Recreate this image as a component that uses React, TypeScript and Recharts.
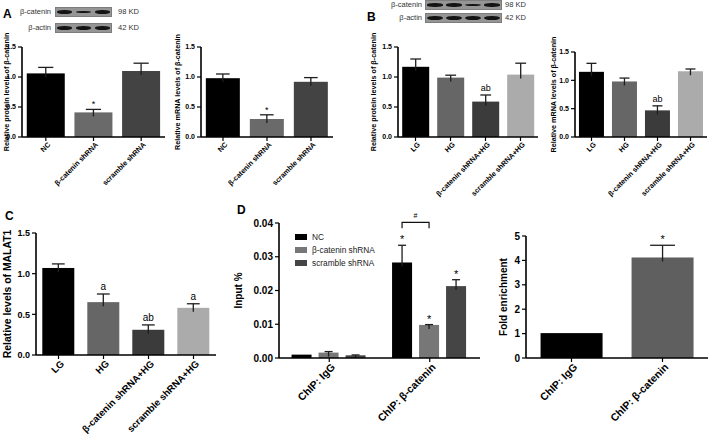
import React from 'react';
import { Bar, BarChart, Cell, Legend, XAxis, YAxis } from 'recharts';

const FONT = '"Liberation Sans", Arial, Helvetica, sans-serif';

// panel A
const aCategories = ['NC', 'β-catenin shRNA', 'scramble shRNA'];
const aProtein = [1.06, 0.41, 1.1];
const aProteinErr = [0.1, 0.05, 0.13];
const aMrna = [0.98, 0.3, 0.92];
const aMrnaErr = [0.07, 0.07, 0.07];
const aNotes = ['', '*', ''];
const aColors = ['#000000', '#6a6a6a', '#434343'];

// panel B
const bCategories = ['LG', 'HG', 'β-catenin shRNA+HG', 'scramble shRNA+HG'];
const bProtein = [1.17, 0.99, 0.59, 1.04];
const bProteinErr = [0.13, 0.04, 0.11, 0.19];
const bMrna = [1.15, 0.98, 0.47, 1.16];
const bMrnaErr = [0.15, 0.06, 0.08, 0.04];
const bNotes = ['', '', 'ab', ''];
const bColors = ['#000000', '#666666', '#3b3b3b', '#ababab'];

// panel C
const cValues = [1.07, 0.65, 0.31, 0.58];
const cErr = [0.05, 0.1, 0.06, 0.05];
const cNotes = ['', 'a', 'ab', 'a'];

// panel D
const dGroups = ['ChIP: IgG', 'ChIP: β-catenin'];
const dSeries = ['nc', 'sh', 'scr'];
const dSeriesNames = ['NC', 'β-catenin shRNA', 'scramble shRNA'];
const dSeriesColors = ['#000000', '#777777', '#454545'];
const dNc = [0.001, 0.0283];
const dNcErr = [0, 0.0051];
const dSh = [0.0016, 0.0098];
const dShErr = [0.0003, 0.0001];
const dScr = [0.0008, 0.0213];
const dScrErr = [0.0001, 0.0019];
const dNotes = ['', '*'];
const dBracket = { group: 'ChIP: β-catenin', level: 0.0402, label: '#' };
const dFold = [1.02, 4.12];
const dFoldErr = [0, 0.5];
const dFoldColors = ['#000000', '#5f5f5f'];

// blot band thickness per lane
const aBlotCatenin = [4, 2.2, 4];
const aBlotActin = [4, 4, 4];
const bBlotCatenin = [3.4, 3.4, 2, 3.6];
const bBlotActin = [4.4, 4.4, 4.4, 4.4];

const rows = (cats: string[], vals: number[], errs: number[], notes: string[]) =>
  cats.map((name, i) => ({ name, v: vals[i], e: errs[i], n: notes[i] }));

const aProteinData = rows(aCategories, aProtein, aProteinErr, aNotes);
const aMrnaData = rows(aCategories, aMrna, aMrnaErr, aNotes);
const bProteinData = rows(bCategories, bProtein, bProteinErr, bNotes);
const bMrnaData = rows(bCategories, bMrna, bMrnaErr, bNotes);
const cData = rows(bCategories, cValues, cErr, cNotes);
const dFoldData = rows(dGroups, dFold, dFoldErr, dNotes);
const dData = dGroups.map((name, i) => ({
  name,
  nc: dNc[i], ncErr: dNcErr[i], ncNote: dNotes[i],
  sh: dSh[i], shErr: dShErr[i], shNote: dNotes[i],
  scr: dScr[i], scrErr: dScrErr[i], scrNote: dNotes[i],
}));

const BAR_GAP = 7;

// bar + upward whisker + note, whisker scaled from the bar's own px/unit
const errShape = (vk: string, ek: string, nk: string, noteSize: number, bracket = false) => (p: any) => {
  const { x, y, width, height, fill, payload } = p;
  const v = payload[vk];
  const ppu = v > 0 ? height / v : 0;
  const e = payload[ek] ?? 0;
  const top = y - e * ppu;
  const cx = x + width / 2;
  const cap = width * 0.2;
  const note = payload[nk];
  const base = y + height;
  const by = base - dBracket.level * ppu;
  return (
    <g>
      <rect x={x} y={y} width={width} height={height} fill={fill} />
      {e > 0 && (
        <g stroke="#1e1e1e" strokeWidth={1.3}>
          <line x1={cx} y1={Math.min(y + 4, base)} x2={cx} y2={top} />
          <line x1={cx - cap} y1={top} x2={cx + cap} y2={top} />
        </g>
      )}
      {note && (
        <text x={cx} y={top - (note === '*' ? 2 : 4)} textAnchor="middle" fontSize={noteSize} fontFamily={FONT} fill="#000" stroke="none">
          {note}
        </text>
      )}
      {bracket && payload.name === dBracket.group && (
        <g>
          <path
            d={`M${cx},${by + 6} V${by} H${cx + width + BAR_GAP} V${by + 6}`}
            fill="none" stroke="#111" strokeWidth={1.2}
          />
          <text x={cx + (width + BAR_GAP) / 2} y={by - 4} textAnchor="middle" fontSize={7} fontFamily={FONT} fill="#000" stroke="none">
            {dBracket.label}
          </text>
        </g>
      )}
    </g>
  );
};

const slantTick = (size: number) => (p: any) => (
  <g transform={`translate(${p.x},${p.y})`}>
    <text x={2} y={0} dy={size * 0.7} transform="rotate(-45)" textAnchor="end" fontSize={size} fontWeight={700} fill="#000" fontFamily={FONT}>
      {p.payload.value}
    </text>
  </g>
);

interface PanelProps {
  box: { x: number; y: number; w: number; h: number };
  yw: number;
  xh: number;
  data: any[];
  domain: [number, number];
  ticks: number[];
  digits: number;
  yLabel: string;
  labelX: number;
  tickSize: number;
  xTickSize: number;
  labelSize: number;
  catGap: string;
  children: React.ReactNode;
}

const Panel = ({ box, yw, xh, data, domain, ticks, digits, yLabel, labelX, tickSize, xTickSize, labelSize, catGap, children }: PanelProps) => {
  const MT = 20;
  const MR = 4;
  const left = box.x - yw;
  return (
    <div style={{ position: 'absolute', left, top: box.y - MT }}>
      <BarChart
        width={yw + box.w + MR}
        height={MT + box.h + xh}
        data={data}
        margin={{ top: MT, right: MR, left: 0, bottom: 0 }}
        barCategoryGap={catGap}
        barGap={BAR_GAP}
      >
        <XAxis
          dataKey="name"
          height={xh}
          interval={0}
          axisLine={{ stroke: '#000', strokeWidth: 1.6 }}
          tickLine={{ stroke: '#000', strokeWidth: 1.2 }}
          tickSize={4}
          tick={slantTick(xTickSize)}
        />
        <YAxis
          width={yw}
          type="number"
          domain={domain}
          ticks={ticks}
          interval={0}
          tickFormatter={(t: number) => t.toFixed(digits)}
          axisLine={{ stroke: '#000', strokeWidth: 1.6 }}
          tickLine={{ stroke: '#000', strokeWidth: 1.2 }}
          tickSize={4}
          tick={{ fontSize: tickSize, fontWeight: 700, fill: '#000', fontFamily: FONT }}
          label={{
            value: yLabel,
            angle: -90,
            position: 'insideLeft',
            offset: labelX - left,
            textAnchor: 'middle',
            fontSize: labelSize,
            fontWeight: 700,
            fill: '#000',
            style: { textAnchor: 'middle', fontFamily: FONT, fontWeight: 700, fontSize: labelSize },
          }}
        />
        {children}
      </BarChart>
    </div>
  );
};

const Blot = ({ left, top, width, rowH, gap, labelRight, kdLeft, lanes }: any) => (
  <>
    {lanes.map((row: any, r: number) => {
      const rowTop = top + r * (rowH + gap);
      return (
        <React.Fragment key={row.label}>
          <div style={{ position: 'absolute', left: labelRight - 60, width: 60, top: rowTop, height: rowH, lineHeight: `${rowH}px`, textAlign: 'right', fontSize: 7.5, color: '#333', fontFamily: FONT }}>
            {row.label}
          </div>
          <div style={{ position: 'absolute', left, top: rowTop, width, height: rowH, background: '#959595', boxShadow: 'inset 0 0 0 1px #7d7d7d' }}>
            {row.bands.map((t: number, i: number) => {
              const bw = (width / row.bands.length) * 0.82;
              const c = ((i + 0.5) / row.bands.length) * width;
              return (
                <div key={i} style={{ position: 'absolute', left: c - bw / 2, top: rowH / 2 - t / 2, width: bw, height: t, background: '#141414', borderRadius: '45%', filter: 'blur(0.6px)' }} />
              );
            })}
          </div>
          <div style={{ position: 'absolute', left: kdLeft, top: rowTop, height: rowH, lineHeight: `${rowH}px`, fontSize: 7.5, color: '#333', fontFamily: FONT, whiteSpace: 'nowrap' }}>
            {row.kd}
          </div>
        </React.Fragment>
      );
    })}
  </>
);

const Letter = ({ x, y, children }: { x: number; y: number; children: string }) => (
  <div style={{ position: 'absolute', left: x, top: y, fontSize: 12, fontWeight: 700, fontFamily: FONT, lineHeight: '12px' }}>{children}</div>
);

const DLegend = (props: any) => {
  const items = [...(props.payload ?? [])].sort(
    (a: any, b: any) => dSeries.indexOf(a.dataKey) - dSeries.indexOf(b.dataKey),
  );
  return (
    <div style={{ fontFamily: FONT, fontSize: 8.3, color: '#222' }}>
      {items.map((item: any) => (
        <div key={item.value} style={{ display: 'flex', alignItems: 'center', height: 13 }}>
          <span style={{ width: 12, height: 6, background: item.color, marginRight: 5, display: 'inline-block' }} />
          {item.value}
        </div>
      ))}
    </div>
  );
};

const abTicks = [0, 0.5, 1, 1.5];

export default function App() {
  return (
    <div style={{ position: 'absolute', left: 0, top: 0, width: 709, height: 435, background: '#fff', overflow: 'hidden', fontFamily: FONT }}>
      <Letter x={3} y={8}>A</Letter>
      <Letter x={367} y={11}>B</Letter>
      <Letter x={5} y={210}>C</Letter>
      <Letter x={237} y={204}>D</Letter>

      <Blot left={55} top={7} width={57} rowH={10} gap={6} labelRight={51} kdLeft={118}
        lanes={[{ label: 'β-catenin', kd: '98 KD', bands: aBlotCatenin }, { label: 'β-actin', kd: '42 KD', bands: aBlotActin }]} />
      <Blot left={425} top={0} width={77} rowH={10} gap={3} labelRight={422} kdLeft={505}
        lanes={[{ label: 'β-catenin', kd: '98 KD', bands: bBlotCatenin }, { label: 'β-actin', kd: '42 KD', bands: bBlotActin }]} />

      <Panel box={{ x: 22, y: 47, w: 143, h: 90 }} yw={22} xh={66} data={aProteinData} domain={[0, 1.5]} ticks={abTicks} digits={1}
        yLabel="Relative protein levels of β-catenin" labelX={6} tickSize={7} xTickSize={7.2} labelSize={7.2} catGap="10%">
        <Bar dataKey="v" isAnimationActive={false} shape={errShape('v', 'e', 'n', 9)}>
          {aColors.map((c) => <Cell key={c} fill={c} />)}
        </Bar>
      </Panel>
      <Panel box={{ x: 201, y: 47, w: 132, h: 90 }} yw={30} xh={66} data={aMrnaData} domain={[0, 1.5]} ticks={abTicks} digits={1}
        yLabel="Relative mRNA levels of β-catenin" labelX={177} tickSize={7} xTickSize={7.2} labelSize={7.2} catGap="11%">
        <Bar dataKey="v" isAnimationActive={false} shape={errShape('v', 'e', 'n', 9)}>
          {aColors.map((c) => <Cell key={c} fill={c} />)}
        </Bar>
      </Panel>
      <Panel box={{ x: 398, y: 47, w: 140, h: 90 }} yw={30} xh={70} data={bProteinData} domain={[0, 1.5]} ticks={abTicks} digits={1}
        yLabel="Relative protein levels of β-catenin" labelX={373} tickSize={7} xTickSize={7.2} labelSize={7.2} catGap="12%">
        <Bar dataKey="v" isAnimationActive={false} shape={errShape('v', 'e', 'n', 9)}>
          {bColors.map((c) => <Cell key={c} fill={c} />)}
        </Bar>
      </Panel>
      <Panel box={{ x: 575, y: 52, w: 132, h: 85 }} yw={28} xh={70} data={bMrnaData} domain={[0, 1.5]} ticks={abTicks} digits={1}
        yLabel="Relative mRNA levels of β-catenin" labelX={553} tickSize={7} xTickSize={7.2} labelSize={7.2} catGap="12%">
        <Bar dataKey="v" isAnimationActive={false} shape={errShape('v', 'e', 'n', 9)}>
          {bColors.map((c) => <Cell key={c} fill={c} />)}
        </Bar>
      </Panel>

      <Panel box={{ x: 36, y: 233, w: 180, h: 122 }} yw={34} xh={80} data={cData} domain={[0, 1.5]} ticks={abTicks} digits={1}
        yLabel="Relative levels of MALAT1" labelX={7} tickSize={9} xTickSize={9.6} labelSize={10.4} catGap="14%">
        <Bar dataKey="v" isAnimationActive={false} shape={errShape('v', 'e', 'n', 10)}>
          {bColors.map((c) => <Cell key={c} fill={c} />)}
        </Bar>
      </Panel>

      <Panel box={{ x: 279, y: 223, w: 201, h: 135 }} yw={50} xh={72} data={dData} domain={[0, 0.04]} ticks={[0, 0.01, 0.02, 0.03, 0.04]} digits={2}
        yLabel="Input %" labelX={238} tickSize={10} xTickSize={10.5} labelSize={10} catGap="12.5%">
        <Legend
          layout="horizontal"
          verticalAlign="middle"
          align="center"
          content={DLegend}
          wrapperStyle={{ left: 66, top: 27, width: 'auto' }}
        />
        {dSeries.map((k, i) => (
          <Bar key={k} dataKey={k} name={dSeriesNames[i]} fill={dSeriesColors[i]} isAnimationActive={false}
            shape={errShape(k, `${k}Err`, `${k}Note`, 11, k === 'nc')} />
        ))}
      </Panel>

      <Panel box={{ x: 526, y: 236, w: 182, h: 122 }} yw={34} xh={72} data={dFoldData} domain={[0, 5]} ticks={[0, 1, 2, 3, 4, 5]} digits={0}
        yLabel="Fold enrichment" labelX={503} tickSize={10} xTickSize={10.5} labelSize={10} catGap="16%">
        <Bar dataKey="v" isAnimationActive={false} shape={errShape('v', 'e', 'n', 11)}>
          {dFoldColors.map((c) => <Cell key={c} fill={c} />)}
        </Bar>
      </Panel>
    </div>
  );
}
